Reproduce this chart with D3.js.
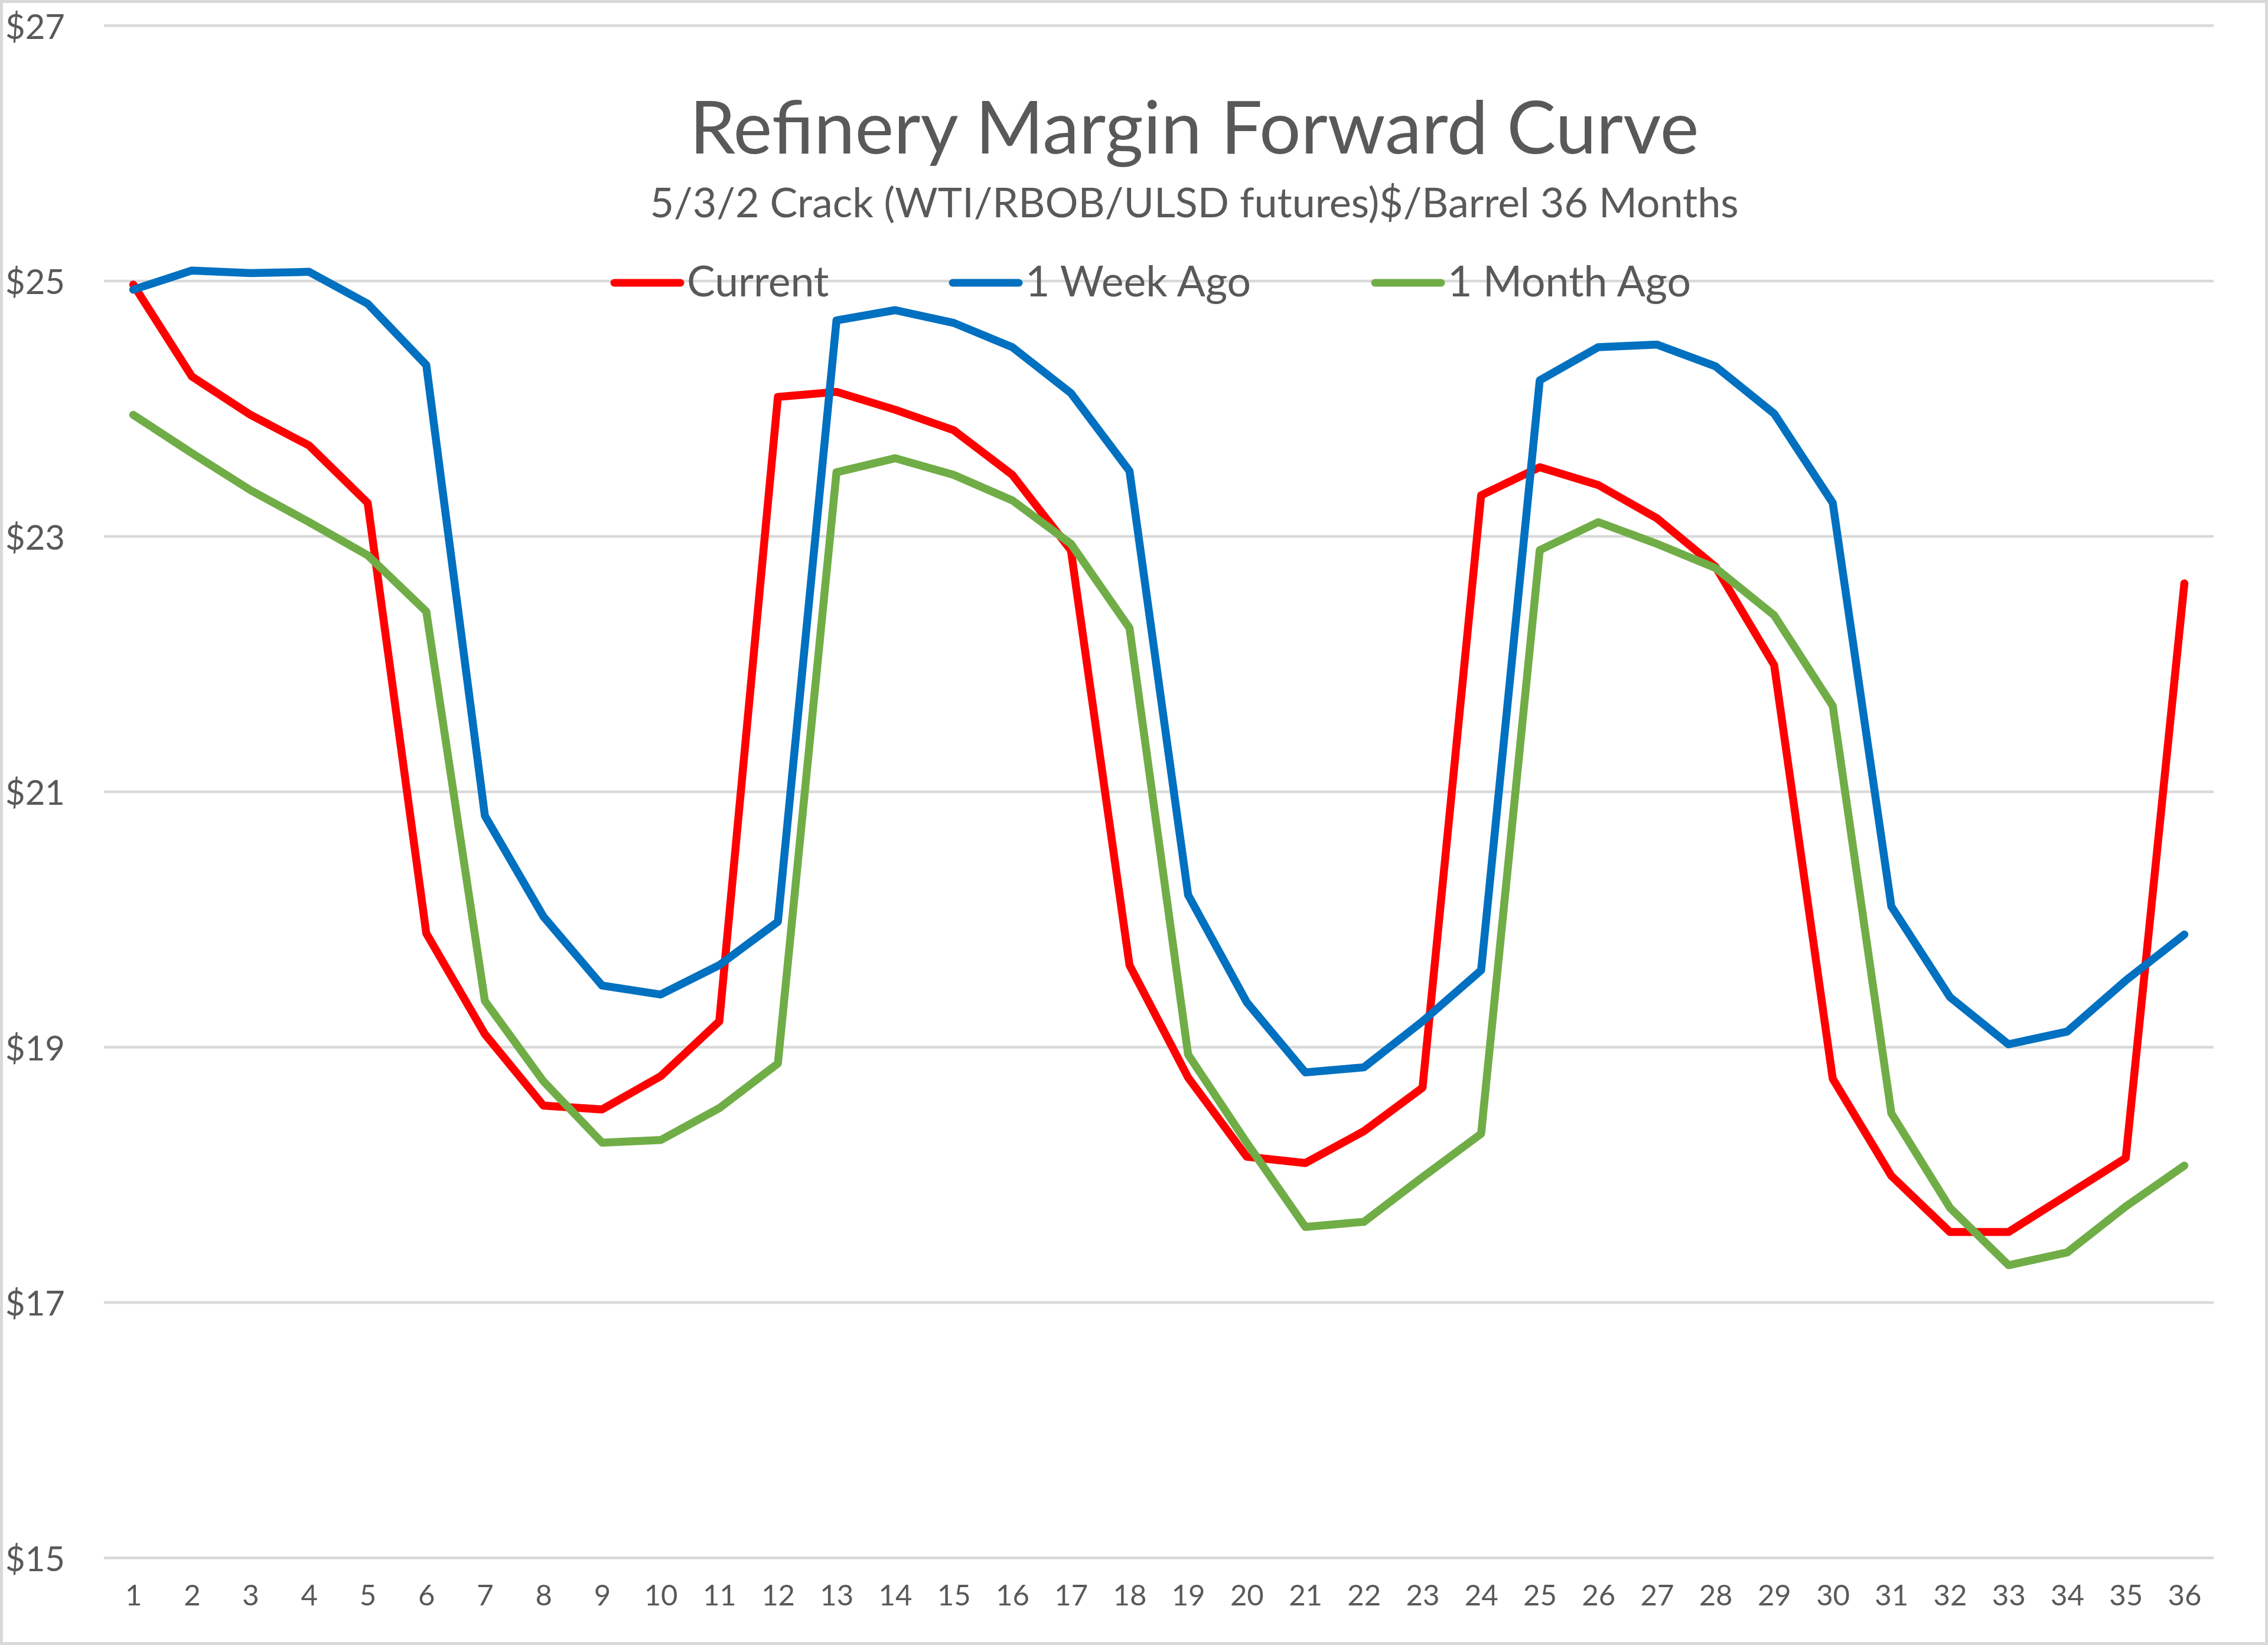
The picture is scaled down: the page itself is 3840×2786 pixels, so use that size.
<!DOCTYPE html>
<html>
<head>
<meta charset="utf-8">
<script src="https://cdn.jsdelivr.net/npm/d3@7"></script>
<style>
  body { margin: 0; background: #fff; }
  text { font-family: Lato, "Noto Sans", sans-serif; fill: #595959; }
</style>
</head>
<body>
<div id="chart"></div>
<script>
var width = 3840
var height = 2786

// months on the curve
var months = d3.range(1, 37)
var yTicks = [15, 17, 19, 21, 23, 25, 27]

var current = [24.97, 24.25, 23.95, 23.71, 23.26, 19.89, 19.10, 18.54, 18.51, 18.77, 19.20, 24.09,
    24.13, 23.99, 23.83, 23.48, 22.89, 19.64, 18.76, 18.14, 18.09, 18.34, 18.68, 23.32,
    23.54, 23.40, 23.14, 22.76, 21.99, 18.75, 17.99, 17.55, 17.55, 17.84, 18.13, 22.63]
var weekAgo = [24.93, 25.08, 25.06, 25.07, 24.82, 24.34, 20.81, 20.02, 19.48, 19.41, 19.64, 19.98,
    24.69, 24.77, 24.67, 24.48, 24.12, 23.51, 20.19, 19.35, 18.80, 18.84, 19.20, 19.60,
    24.22, 24.48, 24.50, 24.33, 23.96, 23.26, 20.10, 19.39, 19.02, 19.12, 19.52, 19.88]
var monthAgo = [23.95, 23.65, 23.36, 23.11, 22.85, 22.41, 19.36, 18.73, 18.25, 18.27, 18.52, 18.87,
    23.50, 23.61, 23.48, 23.28, 22.94, 22.28, 18.94, 18.25, 17.59, 17.63, 17.98, 18.32,
    22.89, 23.11, 22.94, 22.75, 22.38, 21.67, 18.48, 17.74, 17.29, 17.39, 17.75, 18.07]

var seriesNames = ["Current", "1 Week Ago", "1 Month Ago"]
var seriesColors = ["#ff0000", "#0070c0", "#70ad47"]
var seriesValues = [current, weekAgo, monthAgo]

// plot area (top is taken by window.top, so prefixed names)
var plotLeft = 176, plotRight = 3748, plotTop = 43, plotBottom = 2638

var svg = d3.select("#chart").append("svg")
    .attr("width", width)
    .attr("height", height)

// chart border
svg.append("rect")
    .attr("x", 2.5).attr("y", 2.5)
    .attr("width", width - 5).attr("height", height - 5)
    .attr("fill", "#fff")
    .attr("stroke", "#d9d9d9")
    .attr("stroke-width", 5)

var x = d3.scalePoint()
    .domain(months)
    .range([plotLeft, plotRight])
    .padding(0.5)

var y = d3.scaleLinear()
    .domain([15, 27])
    .range([plotBottom, plotTop])

// gridlines + y labels
var yAxis = svg.append("g")
    .attr("transform", "translate(" + plotLeft + ",0)")
    .call(d3.axisLeft(y)
        .tickValues(yTicks)
        .tickFormat(d => "$" + d)
        .tickSize(-(plotRight - plotLeft))
        .tickPadding(66))
yAxis.select(".domain").remove()
yAxis.selectAll("line").attr("stroke", "#d9d9d9").attr("stroke-width", 4.5)
yAxis.selectAll("text")
    .attr("fill", "#595959")
    .style("font-size", "58px")
    .attr("dy", "0.38em")

var xAxis = svg.append("g")
    .attr("transform", "translate(0," + plotBottom + ")")
    .call(d3.axisBottom(x).tickSize(0))
xAxis.select(".domain").remove()
xAxis.selectAll("text")
    .attr("fill", "#595959")
    .style("font-size", "49px")
    .attr("y", 81)
    .attr("dy", null)

// title
svg.append("text")
    .attr("x", 2022).attr("y", 260)
    .attr("text-anchor", "middle")
    .style("font-size", "124.5px")
    .text("Refinery Margin Forward Curve")

svg.append("text")
    .attr("x", 2022).attr("y", 368)
    .attr("text-anchor", "middle")
    .style("font-size", "70px")
    .text("5/3/2 Crack (WTI/RBOB/ULSD futures)$/Barrel 36 Months")

// legend
var legendX = [1040, 1613, 2328]
var legend = svg.selectAll(".legend")
    .data(seriesNames)
    .join("g")
    .attr("transform", (d, i) => "translate(" + legendX[i] + ",479)")
legend.append("line")
    .attr("x1", 0).attr("x2", 112)
    .attr("stroke", (d, i) => seriesColors[i])
    .attr("stroke-width", 13)
    .attr("stroke-linecap", "round")
legend.append("text")
    .attr("x", 123).attr("y", 23)
    .style("font-size", "71.5px")
    .text(d => d)

var line = d3.line()
    .x((d, i) => x(months[i]))
    .y(d => y(d))

svg.selectAll(".series")
    .data(seriesValues)
    .join("path")
    .attr("d", line)
    .attr("fill", "none")
    .attr("stroke", (d, i) => seriesColors[i])
    .attr("stroke-width", 13.5)
    .attr("stroke-linejoin", "round")
    .attr("stroke-linecap", "round")
</script>
</body>
</html>
